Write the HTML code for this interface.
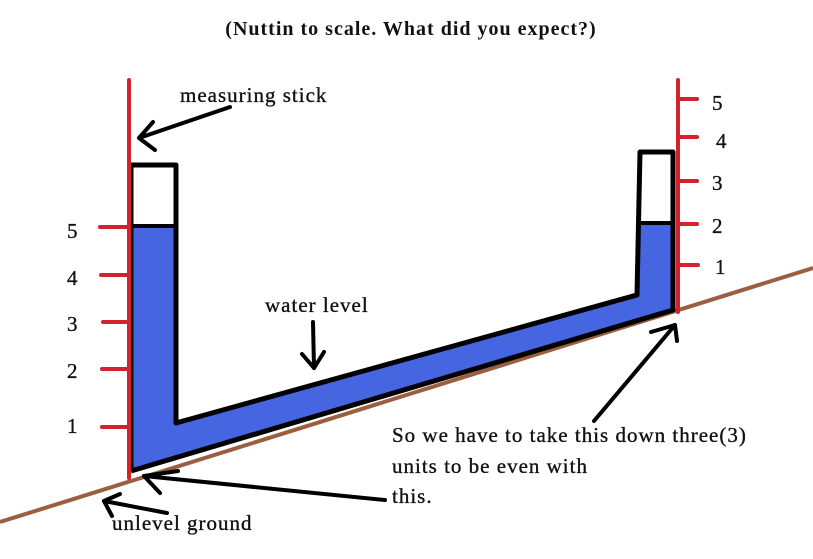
<!DOCTYPE html>
<html><head><meta charset="utf-8"><style>
html,body{margin:0;padding:0;background:#fff;}
svg{display:block;}
text{font-family:"Liberation Serif",serif;font-size:21px;letter-spacing:1px;fill:#111;stroke:#111;stroke-width:0.35;}
</style></head><body>
<svg width="813" height="559" viewBox="0 0 813 559" xmlns="http://www.w3.org/2000/svg">
<rect width="813" height="559" fill="#fff"/>
<text x="411" y="35" text-anchor="middle" font-weight="bold" style="font-size:20px;stroke-width:0">(Nuttin to scale. What did you expect?)</text>
<!-- ground -->
<line x1="0" y1="522" x2="813" y2="268" stroke="#9b5e3e" stroke-width="4"/>
<!-- water -->
<polygon points="131,226 176,226 176,423 638,295 638,224 673,224 673,310 131,471" fill="#4665e0"/>
<!-- tube outline -->
<polyline points="131,471 131,165 176,165 176,423 637,295 640,152 673,152 673,310 131,471" fill="none" stroke="#000" stroke-width="5" stroke-linejoin="round"/>
<line x1="131" y1="226" x2="176" y2="226" stroke="#000" stroke-width="4"/>
<line x1="638" y1="223" x2="673" y2="223" stroke="#000" stroke-width="4"/>
<!-- sticks -->
<g stroke="#d4222d" stroke-width="4" stroke-linecap="round">
<line x1="129" y1="80" x2="129" y2="478"/>
<line x1="100" y1="227" x2="129" y2="227"/>
<line x1="101" y1="275" x2="129" y2="275"/>
<line x1="103" y1="322" x2="129" y2="322"/>
<line x1="102" y1="369" x2="129" y2="369"/>
<line x1="102" y1="427" x2="129" y2="427"/>
<line x1="678" y1="80" x2="678" y2="312"/>
<line x1="678" y1="99" x2="697" y2="99"/>
<line x1="678" y1="137" x2="697" y2="137"/>
<line x1="678" y1="181" x2="697" y2="181"/>
<line x1="678" y1="224" x2="697" y2="224"/>
<line x1="678" y1="265" x2="698" y2="265"/>
</g>
<text x="67" y="238">5</text><text x="67" y="285">4</text><text x="67" y="331">3</text><text x="67" y="378">2</text><text x="67" y="433">1</text>
<text x="712" y="110">5</text><text x="716" y="148">4</text><text x="712" y="190">3</text><text x="712" y="233">2</text><text x="715" y="274">1</text>
<!-- arrows -->
<g stroke="#000" stroke-width="4" fill="none" stroke-linecap="round" stroke-linejoin="round">
<line x1="230" y1="107" x2="139" y2="138"/><polyline points="153,122 139,138 155,150"/>
<line x1="313" y1="322" x2="314" y2="368"/><polyline points="302,354 314,368 324,352"/>
<line x1="594" y1="421" x2="675" y2="325"/><polyline points="651,332 675,325 677,341"/>
<line x1="385" y1="500" x2="144" y2="476"/><polyline points="178,471 144,476 160,493"/>
<line x1="167" y1="513" x2="104" y2="501"/><polyline points="120,494 104,501 112,516"/>
</g>
<text x="180" y="102">measuring stick</text>
<text x="265" y="312">water level</text>
<text x="392" y="442">So we have to take this down three(3)</text>
<text x="392" y="473">units to be even with</text>
<text x="392" y="503">this.</text>
<text x="112" y="530">unlevel ground</text>
</svg>
</body></html>
